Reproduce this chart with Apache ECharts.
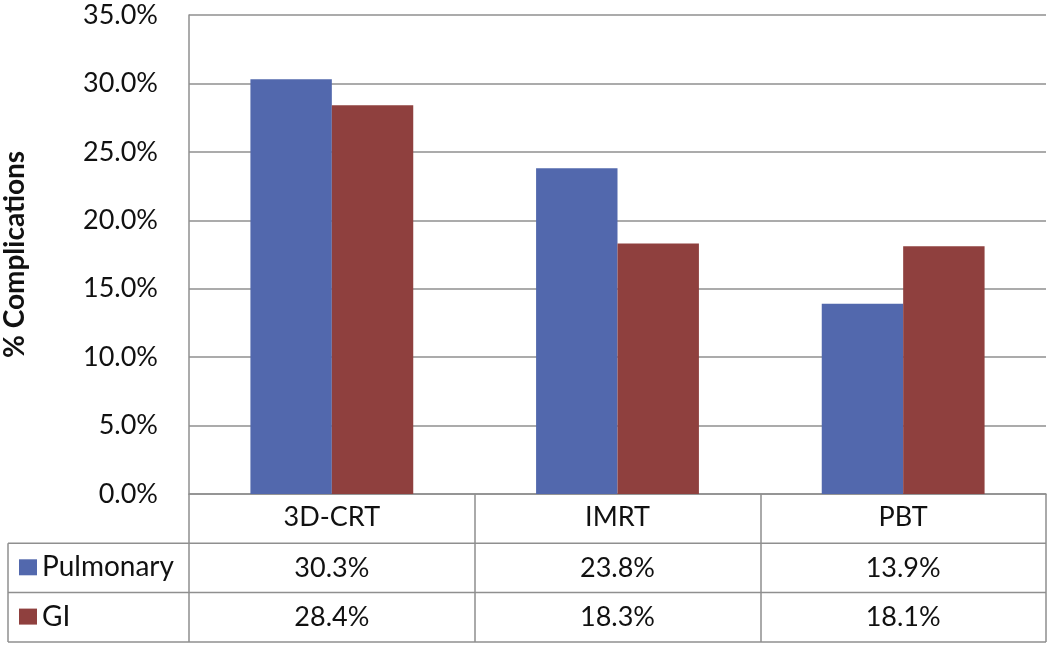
<!DOCTYPE html>
<html><head><meta charset="utf-8">
<script src="https://cdn.jsdelivr.net/npm/echarts@6/dist/echarts.min.js"></script>
<style>html,body{margin:0;padding:0;background:#fff}#c{width:1050px;height:645px}</style>
</head><body><div id="c"></div>
<script>
const categories = ['3D-CRT', 'IMRT', 'PBT'];
const pulmonary = [30.3, 23.8, 13.9];
const gi = [28.4, 18.3, 18.1];
const seriesNames = ['Pulmonary', 'GI'];
const yTicks = { min: 0, max: 35, interval: 5 };

const FONT = 'Lato';
const FS = 27;
const LINE = '#8f8f8f';
const BLUE = '#5268ad';
const RED = '#8f403e';

const gridLeft = 189, gridRight = 4, gridTop = 15, gridBottom = 151;
const rowH = 49.3;
const axisY = 645 - gridBottom;

const chart = echarts.init(document.getElementById('c'));
const fmt = v => v.toFixed(1) + '%';

const valueAxisStyle = (offset, data) => ({
  type: 'category', data: data, position: 'bottom', offset: offset,
  axisLine: { show: false }, axisTick: { show: false },
  axisLabel: { fontFamily: FONT, fontSize: FS, color: '#111', margin: 11 }
});

const legendCfg = (name, i) => ({
  left: 19, top: axisY + rowH * (i + 1) + 10, padding: 0,
  itemWidth: 18, itemHeight: 16, icon: 'rect', selectedMode: false,
  textStyle: { fontFamily: FONT, fontSize: 28, color: '#111' },
  data: [name]
});

chart.setOption({
  animation: false,
  grid: { left: gridLeft, right: gridRight, top: gridTop, bottom: gridBottom, outerBoundsMode: 'none', containLabel: false },
  legend: seriesNames.map(legendCfg),
  xAxis: [
    {
      type: 'category', data: categories,
      axisLine: { show: true, lineStyle: { color: LINE, width: 1.5 } },
      axisTick: { show: true, length: rowH * 3, lineStyle: { color: LINE, width: 1.5 } },
      axisLabel: { fontFamily: FONT, fontSize: FS, color: '#111', margin: 10 }
    },
    valueAxisStyle(rowH, pulmonary.map(fmt)),
    valueAxisStyle(rowH * 2, gi.map(fmt))
  ],
  yAxis: {
    type: 'value', min: yTicks.min, max: yTicks.max, interval: yTicks.interval,
    name: '% Complications', nameLocation: 'middle', nameRotate: 90, nameGap: 160,
    nameTextStyle: { fontFamily: FONT, fontSize: 28, fontWeight: 'bold', color: '#111' },
    axisLine: { show: true, lineStyle: { color: LINE, width: 1.5 } },
    axisTick: { show: false },
    splitLine: { show: true, lineStyle: { color: LINE, width: 1.5 } },
    axisLabel: { fontFamily: FONT, fontSize: FS, color: '#111', margin: 31, formatter: v => fmt(v) }
  },
  series: [
    { name: seriesNames[0], type: 'bar', data: pulmonary, itemStyle: { color: BLUE }, barGap: '0%', barCategoryGap: '43%' },
    { name: seriesNames[1], type: 'bar', data: gi, itemStyle: { color: RED }, barGap: '0%', barCategoryGap: '43%' }
  ],
  graphic: [
    { type: 'line', shape: { x1: 8, y1: axisY + rowH, x2: 1050 - gridRight, y2: axisY + rowH }, style: { stroke: LINE, lineWidth: 1.5 } },
    { type: 'line', shape: { x1: 8, y1: axisY + rowH * 2, x2: 1050 - gridRight, y2: axisY + rowH * 2 }, style: { stroke: LINE, lineWidth: 1.5 } },
    { type: 'line', shape: { x1: 8, y1: axisY + rowH * 3, x2: 1050 - gridRight, y2: axisY + rowH * 3 }, style: { stroke: LINE, lineWidth: 1.5 } },
    { type: 'line', shape: { x1: 8, y1: axisY + rowH, x2: 8, y2: axisY + rowH * 3 }, style: { stroke: LINE, lineWidth: 1.5 } }
  ]
});
</script></body></html>
